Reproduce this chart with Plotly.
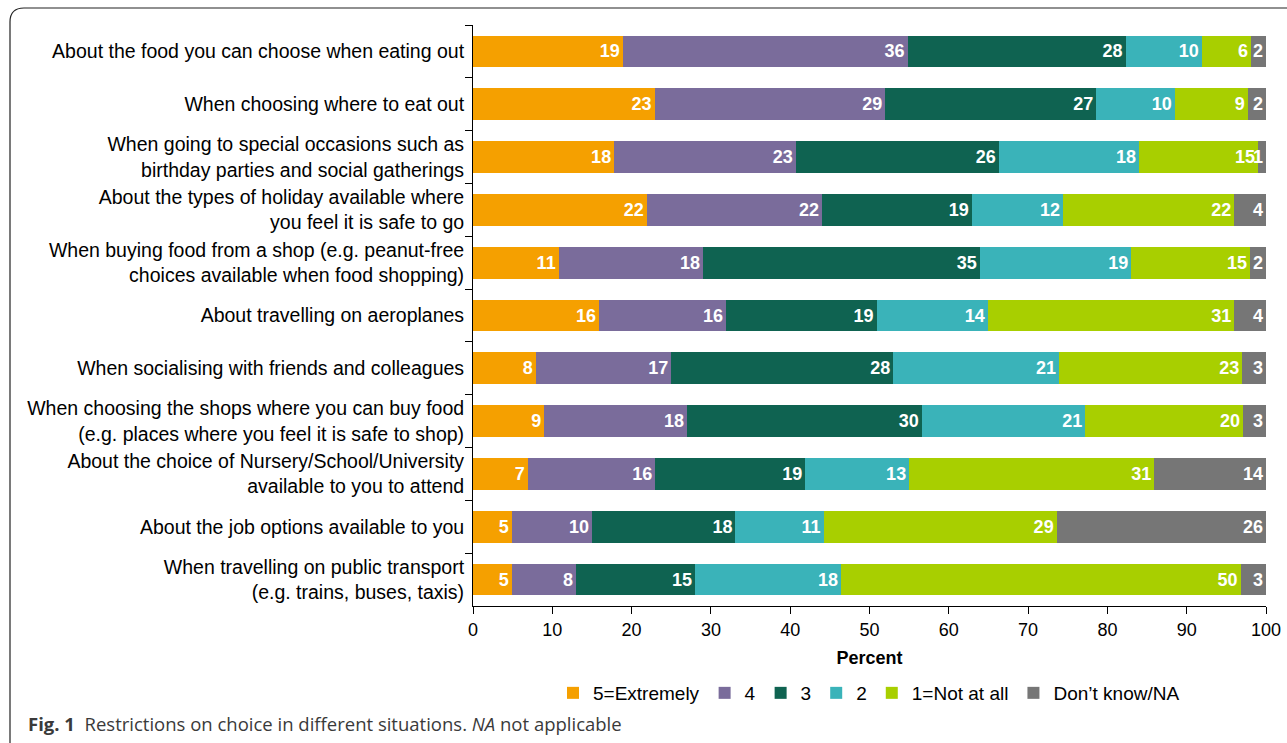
import plotly.graph_objects as go

categories = [
    "About the food you can choose when eating out",
    "When choosing where to eat out",
    "When going to special occasions such as<br>birthday parties and social gatherings",
    "About the types of holiday available where<br>you feel it is safe to go",
    "When buying food from a shop (e.g. peanut-free<br>choices available when food shopping)",
    "About travelling on aeroplanes",
    "When socialising with friends and colleagues",
    "When choosing the shops where you can buy food<br>(e.g. places where you feel it is safe to shop)",
    "About the choice of Nursery/School/University<br>available to you to attend",
    "About the job options available to you",
    "When travelling on public transport<br>(e.g. trains, buses, taxis)",
]

series_names = ["5=Extremely", "4", "3", "2", "1=Not at all", "Don\u2019t know/NA"]

extremely = [18.9, 22.9, 17.8, 21.9, 10.8, 15.9, 7.9, 9.0, 6.9, 4.9, 4.9]
four      = [35.9, 29.1, 22.9, 22.1, 18.2, 16.0, 17.1, 18.0, 16.1, 10.1, 8.1]
three     = [27.5, 26.6, 25.6, 18.9, 34.9, 19.0, 28.0, 29.6, 18.9, 18.1, 15.0]
two       = [9.6, 9.9, 17.7, 11.5, 19.1, 14.0, 20.9, 20.6, 13.1, 11.1, 18.4]
not_at_all = [6.2, 9.2, 15.0, 21.6, 15.0, 31.1, 23.1, 19.9, 30.9, 29.4, 50.4]
dont_know = [1.9, 2.3, 1.0, 4.0, 2.0, 4.0, 3.0, 2.9, 14.1, 26.4, 3.2]

colors = ["#F5A000", "#7A6C9B", "#0F6351", "#3AB3B9", "#A8CF00", "#767676"]

series = [extremely, four, three, two, not_at_all, dont_know]

FONT = "Liberation Sans, Arial, Helvetica, sans-serif"

fig = go.Figure()
for name, vals, col in zip(series_names, series, colors):
    fig.add_trace(go.Bar(
        y=categories, x=vals, name=name, orientation="h",
        marker=dict(color=col, line=dict(width=0)),
        texttemplate="<b>%{x:.0f}</b>", textposition="inside",
        insidetextanchor="end",
        textfont=dict(color="white", size=18, family=FONT),
        width=0.6,
    ))

W, H = 1287, 743
L, R, T, B = 473, 1266, 25, 606
pw, ph = R - L, B - T

def px(x):
    return (x - L) / pw

def py(y):
    return (B - y) / ph

border = "M {x0},{y0} L {x0},{y1} Q {x0},{y2} {x3},{y2} L {x4},{y2}".format(
    x0=px(10), y0=py(760), y1=py(22), y2=py(8), x3=px(24), x4=px(1300))

fig.update_layout(
    width=W, height=H, autosize=False,
    barmode="stack",
    paper_bgcolor="white", plot_bgcolor="white",
    margin=dict(l=L, r=W - R, t=T, b=H - B, pad=0, autoexpand=False),
    font=dict(family=FONT, size=18, color="black"),
    uniformtext=dict(minsize=18, mode="show"),
    showlegend=True,
    legend=dict(orientation="h", x=px(553), xanchor="left", y=py(693), yanchor="middle",
                font=dict(size=19, family=FONT), itemwidth=30, traceorder="normal",
                bgcolor="rgba(0,0,0,0)"),
    xaxis=dict(range=[0, 100], dtick=10, tick0=0, showgrid=False, zeroline=False,
               showline=True, linecolor="black", linewidth=1, automargin=False,
               ticks="outside", ticklen=7, tickcolor="black",
               tickfont=dict(size=18),
               title=dict(text="<b>Percent</b>", font=dict(size=18), standoff=12)),
    yaxis=dict(autorange="reversed", showgrid=False, zeroline=False,
               showline=True, linecolor="black", linewidth=1, automargin=False,
               ticks="outside", ticklen=7, tickcolor="black", tickson="boundaries",
               tickfont=dict(size=19.5), ticklabelstandoff=4),
    shapes=[dict(type="path", path=border, xref="paper", yref="paper",
                 line=dict(color="#222", width=1.2))],
    annotations=[dict(
        text="<b>Fig. 1</b>  Restrictions on choice in different situations. <i>NA</i> not applicable",
        xref="paper", yref="paper", x=px(26), y=py(723), xanchor="left", yanchor="middle",
        showarrow=False, font=dict(size=18.5, family="Open Sans, Noto Sans, sans-serif", color="#3a3a3a"))],
)

fig.write_html("out.html", config={"displayModeBar": False},
               post_script="document.body.style.margin='0';document.body.style.overflow='hidden';")
